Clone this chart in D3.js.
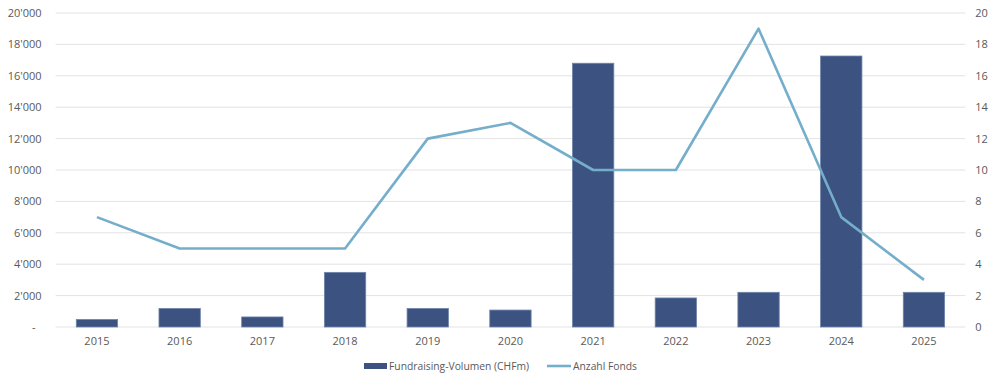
<!DOCTYPE html>
<html><head><meta charset="utf-8">
<script src="https://cdn.jsdelivr.net/npm/d3@7"></script>
<style>body{margin:0;background:#fff;} text{font-family:"Open Sans","Noto Sans",sans-serif;}</style>
</head><body><svg id="c" width="995" height="385"></svg>
<script>
const years = ["2015","2016","2017","2018","2019","2020","2021","2022","2023","2024","2025"];
const volumen = [480, 1180, 640, 3480, 1180, 1080, 16800, 1850, 2210, 17260, 2210];
const fonds = [7, 5, 5, 5, 12, 13, 10, 10, 19, 7, 3];
const leftTicks = [0,2000,4000,6000,8000,10000,12000,14000,16000,18000,20000];
const rightTicks = [0,2,4,6,8,10,12,14,16,18,20];
const legendLabels = ["Fundraising-Volumen (CHFm)", "Anzahl Fonds"];

const svg = d3.select("#c");
const L = 55.6, R = 965.3, T = 13, B = 327;
const x = d3.scaleBand().domain(years).range([L, R]).paddingInner(0.5).paddingOuter(0.25);
const yL = d3.scaleLinear().domain([0,20000]).range([B, T]);
const yR = d3.scaleLinear().domain([0,20]).range([B, T]);
const txt = "#595959";

// gridlines
svg.append("g").selectAll("line").data(leftTicks).join("line")
  .attr("x1", L).attr("x2", R).attr("y1", d=>yL(d)).attr("y2", d=>yL(d))
  .attr("stroke", "#e3e3e3").attr("stroke-width", 1);

// left axis
const fmt = d => d === 0 ? "-" : d3.format(",")(d).replace(/,/g, "'");
const gl = svg.append("g").attr("transform", `translate(${L-14},0)`)
  .call(d3.axisLeft(yL).tickValues(leftTicks).tickFormat(fmt).tickSize(0).tickPadding(0));
gl.select(".domain").remove();
gl.selectAll("text").attr("fill", txt).attr("font-size", 11).attr("dx", d => d===0 ? -6 : 0);

// right axis
const gr = svg.append("g").attr("transform", `translate(${R+10},0)`)
  .call(d3.axisRight(yR).tickValues(rightTicks).tickSize(0).tickPadding(0));
gr.select(".domain").remove();
gr.selectAll("text").attr("fill", txt).attr("font-size", 11);

// x axis
const gx = svg.append("g").attr("transform", `translate(0,${B+10})`)
  .call(d3.axisBottom(x).tickSize(0).tickPadding(0));
gx.select(".domain").remove();
gx.selectAll("text").attr("fill", txt).attr("font-size", 11).attr("dy", "0.71em");

// bars
svg.append("g").selectAll("rect").data(years).join("rect")
  .attr("x", d => x(d)).attr("width", x.bandwidth())
  .attr("y", (d,i) => yL(volumen[i])).attr("height", (d,i) => B - yL(volumen[i]))
  .attr("fill", "#3c5280").attr("stroke", "#6f84ab").attr("stroke-width", 0.8);

// line
const line = d3.line().x((d,i) => x(years[i]) + x.bandwidth()/2).y(d => yR(d));
svg.append("path").datum(fonds).attr("d", line)
  .attr("fill", "none").attr("stroke", "#75aecb").attr("stroke-width", 2.6).attr("stroke-linejoin","round");

// legend
const lg = svg.append("g").attr("transform", "translate(0,366)");
lg.append("rect").attr("x", 364).attr("y", -3).attr("width", 23).attr("height", 6).attr("fill", "#3c5280");
lg.append("text").attr("x", 389).attr("y", 4).attr("fill", txt).attr("font-size", 10.3).text(legendLabels[0]);
lg.append("line").attr("x1", 547).attr("x2", 571).attr("y1", 0).attr("y2", 0).attr("stroke", "#75aecb").attr("stroke-width", 2.6);
lg.append("text").attr("x", 573).attr("y", 4).attr("fill", txt).attr("font-size", 10.3).text(legendLabels[1]);
</script></body></html>
